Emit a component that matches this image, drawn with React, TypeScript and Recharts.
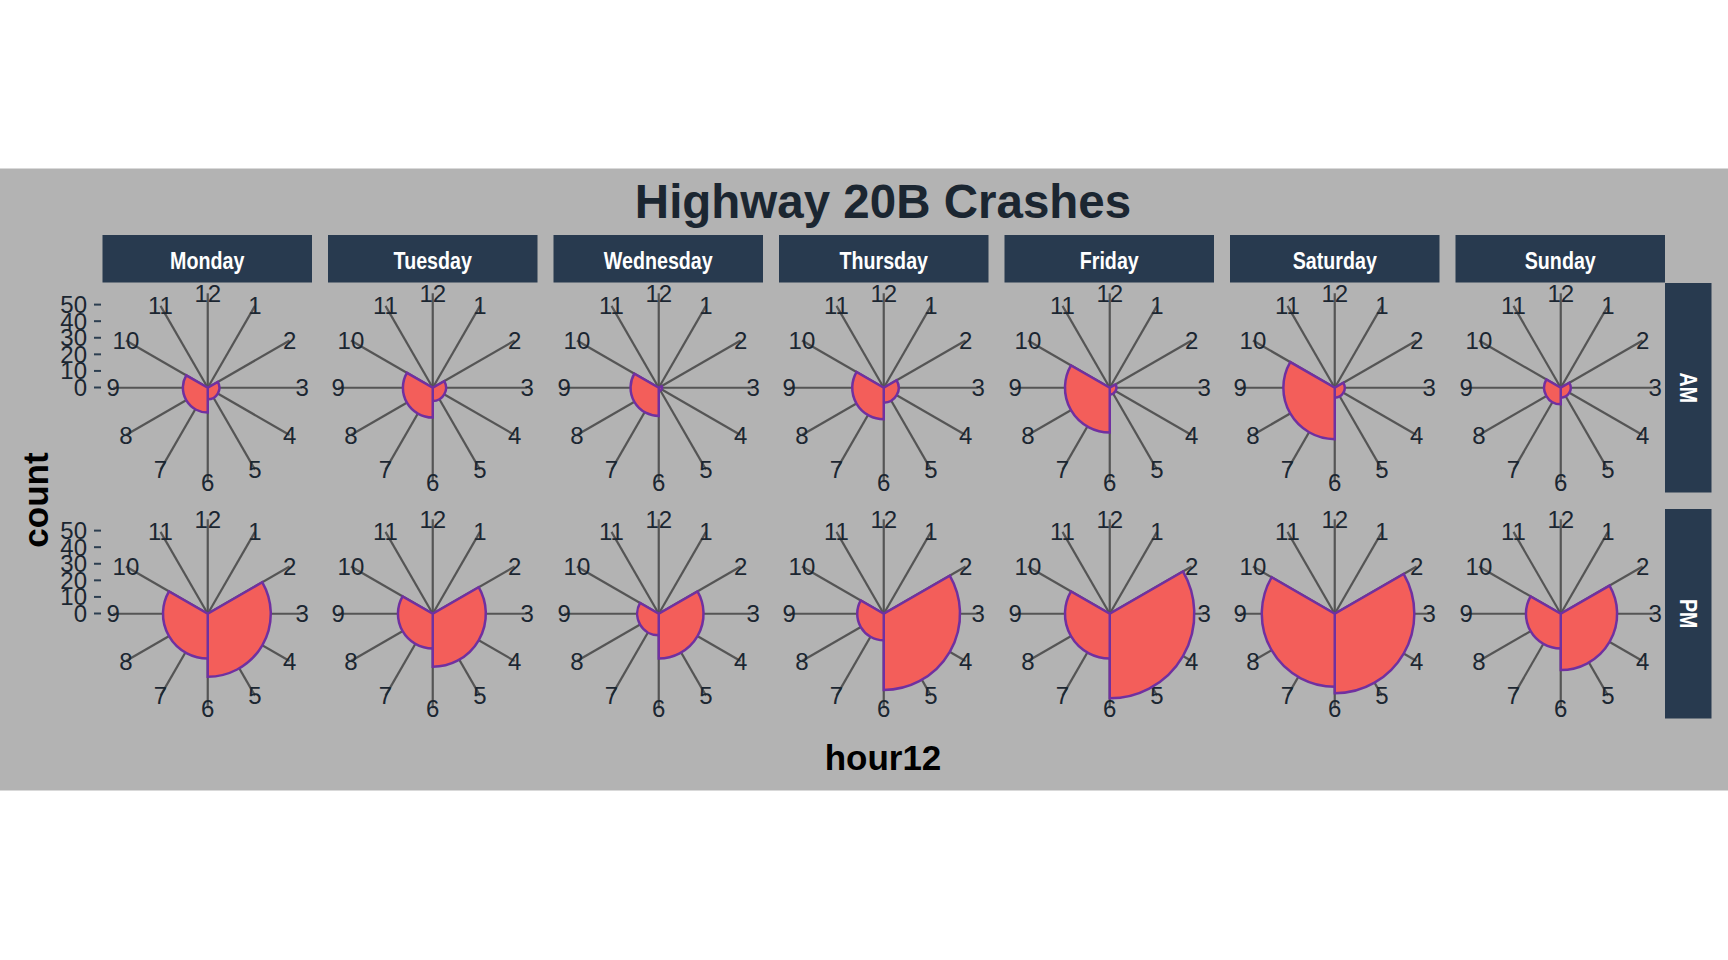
import {
  RadialBarChart,
  RadialBar,
  RadarChart,
  PolarAngleAxis,
  PolarRadiusAxis,
  PolarGrid,
  LineChart,
  YAxis,
} from 'recharts';

const DAYS = ['Monday', 'Tuesday', 'Wednesday', 'Thursday', 'Friday', 'Saturday', 'Sunday'];
const PERIODS = ['AM', 'PM'];
const BINS = ['10-2', '2-6', '6-10'];
const HOURS = [12, 1, 2, 3, 4, 5, 6, 7, 8, 9, 10, 11];

// crash counts per 4-hour bin, one value per day (Mon..Sun)
const AM_10_2 = [0, 0, 0, 0, 0, 0, 0];
const AM_2_6 = [7, 8, 2, 9, 4, 6, 6];
const AM_6_10 = [15, 18, 17, 19, 27, 31, 10];
const PM_10_2 = [0, 0, 0, 0, 0, 0, 0];
const PM_2_6 = [38, 32, 27, 46, 51, 48, 34];
const PM_6_10 = [27, 21, 13, 16, 27, 44, 21];

const COUNT_TICKS = [0, 10, 20, 30, 40, 50];
const COUNT_MAX = 57;

const FONT = '"Liberation Sans", Arial, Helvetica, sans-serif';
const INK = '#1b2631';
const STRIP = '#283a4f';

const PANEL = 209.5;
const PITCH = 225.5;
const LEFT = 102.5;
const ROW_TOP = [283, 509];
const R = 94.5;
const PAD = 24; // room around the panel so the hour labels are not clipped

function panelData(period: string, d: number) {
  const vals = period === 'AM'
    ? [AM_10_2[d], AM_2_6[d], AM_6_10[d]]
    : [PM_10_2[d], PM_2_6[d], PM_6_10[d]];
  return BINS.map((bin, i) => ({ bin, count: vals[i] }));
}

const hourData = HOURS.map((hour) => ({ hour }));

function HourTick(props: any) {
  const { x, y, payload } = props;
  return (
    <text x={x} y={y} textAnchor="middle" dominantBaseline="central" fontSize={24} fill={INK} fontFamily={FONT}>
      {String(payload.value)}
    </text>
  );
}

function Panel({ data }: { data: { bin: string; count: number }[] }) {
  const size = PANEL + 2 * PAD;
  return (
    <div style={{ position: 'relative', width: PANEL, height: PANEL }}>
      <div style={{ position: 'absolute', left: -PAD, top: -PAD }}>
        <RadarChart
          width={size}
          height={size}
          data={hourData}
          outerRadius={R}
          startAngle={90}
          endAngle={-270}
          margin={{ top: 0, right: 0, bottom: 0, left: 0 }}
        >
          <PolarGrid gridType="circle" polarRadius={[]} stroke="#555555" strokeWidth={2.2} />
          <PolarAngleAxis dataKey="hour" tick={<HourTick />} tickLine={false} axisLine={false} tickSize={0.01} />
        </RadarChart>
      </div>
      <div style={{ position: 'absolute', left: -PAD, top: -PAD }}>
        <RadialBarChart
          width={size}
          height={size}
          data={data}
          layout="centric"
          startAngle={30}
          endAngle={-330}
          innerRadius={0}
          outerRadius={R}
          barCategoryGap={0}
          barGap={0}
          margin={{ top: 0, right: 0, bottom: 0, left: 0 }}
        >
          <PolarAngleAxis type="category" dataKey="bin" tick={false} tickLine={false} axisLine={false} />
          <PolarRadiusAxis type="number" domain={[0, COUNT_MAX]} tick={false} axisLine={false} />
          <RadialBar
            dataKey="count"
            fill="#f35e5a"
            stroke="#7030a0"
            strokeWidth={2.5}
            isAnimationActive={false}
          />
        </RadialBarChart>
      </div>
    </div>
  );
}

export default function App() {
  const rightStripX = LEFT + 6 * PITCH + PANEL;
  const countData = COUNT_TICKS.map((count) => ({ count }));
  return (
    <div style={{ position: 'absolute', left: 0, top: 0, width: 1728, height: 960, background: '#fff', overflow: 'hidden' }}>
      <svg width={1728} height={960} style={{ position: 'absolute', left: 0, top: 0 }}>
        <rect x={0} y={168.5} width={1728} height={622} fill="#b3b3b3" />
        <text x={883} y={218} textAnchor="middle" fontSize={47.5} fontWeight="bold" fill={INK} fontFamily={FONT}>
          Highway 20B Crashes
        </text>
        {DAYS.map((day, d) => (
          <g key={day}>
            <rect x={LEFT + d * PITCH} y={235} width={PANEL} height={47.5} fill={STRIP} />
            <text
              x={0}
              y={0}
              transform={`translate(${LEFT + d * PITCH + PANEL / 2},268.5) scale(0.82,1)`}
              textAnchor="middle"
              fontSize={24}
              fontWeight="bold"
              fill="#ffffff"
              fontFamily={FONT}
            >
              {day}
            </text>
          </g>
        ))}
        {PERIODS.map((p, r) => (
          <g key={p}>
            <rect x={rightStripX} y={ROW_TOP[r]} width={46.5} height={PANEL} fill={STRIP} />
            <text
              x={0}
              y={0}
              transform={`translate(${rightStripX + 23.25},${ROW_TOP[r] + PANEL / 2}) rotate(90) scale(0.82,1)`}
              textAnchor="middle"
              dominantBaseline="central"
              fontSize={24}
              fontWeight="bold"
              fill="#ffffff"
              fontFamily={FONT}
            >
              {p}
            </text>
          </g>
        ))}
        <text x={0} y={0} transform="translate(48,500) rotate(-90)" textAnchor="middle" fontSize={35} fontWeight="bold" fill="#000" fontFamily={FONT}>
          count
        </text>
        <text x={883} y={770} textAnchor="middle" fontSize={35} fontWeight="bold" fill="#000" fontFamily={FONT}>
          hour12
        </text>
      </svg>

      {PERIODS.map((p, r) => (
        <div key={'y' + p} style={{ position: 'absolute', left: 0, top: ROW_TOP[r] + PANEL / 2 - R - 20 }}>
          <LineChart width={103} height={R + 40} data={countData} margin={{ top: 20, right: 0, bottom: 20, left: 0 }}>
            <YAxis
              type="number"
              dataKey="count"
              domain={[0, COUNT_MAX]}
              ticks={COUNT_TICKS}
              interval={0}
              width={101}
              axisLine={false}
              tickSize={7}
              tickMargin={7}
              tick={{ fontSize: 24, fill: INK, fontFamily: FONT }}
              tickLine={{ stroke: '#2c3e50', strokeWidth: 2 }}
            />
          </LineChart>
        </div>
      ))}

      {PERIODS.map((p, r) =>
        DAYS.map((day, d) => (
          <div key={p + day} style={{ position: 'absolute', left: LEFT + d * PITCH, top: ROW_TOP[r] }}>
            <Panel data={panelData(p, d)} />
          </div>
        ))
      )}
    </div>
  );
}
